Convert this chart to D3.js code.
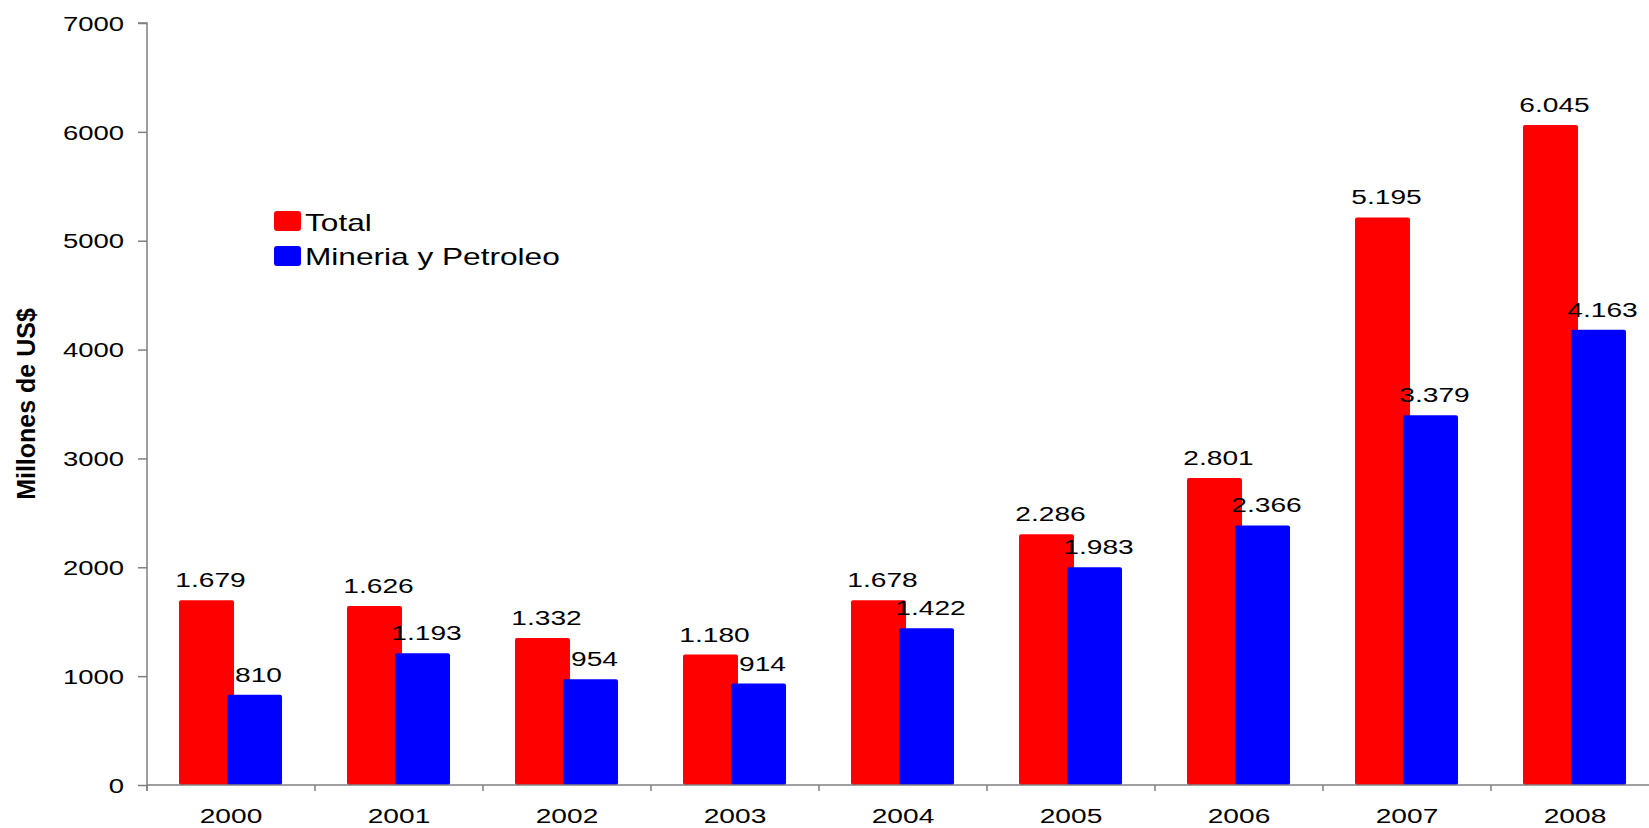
<!DOCTYPE html>
<html><head><meta charset="utf-8">
<script src="https://cdn.jsdelivr.net/npm/d3@7"></script>
<style>
html,body{margin:0;padding:0;background:#fff;}
svg{display:block;font-family:"Liberation Sans",Arial,sans-serif;}
</style></head>
<body><svg id="c" width="1649" height="828"></svg>
<script>
const years = ["2000","2001","2002","2003","2004","2005","2006","2007","2008"];
const totalValues = [1679,1626,1332,1180,1678,2286,2801,5195,6045];
const mineriaValues = [810,1193,954,914,1422,1983,2366,3379,4163];
const yTicks = [0,1000,2000,3000,4000,5000,6000,7000];
const seriesNames = ["Total","Mineria y Petroleo"];
const seriesColors = ["#ff0000","#0000ff"];
const yTitle = "Millones de US$";

const svg = d3.select("#c");
const SX = 1.34; // horizontal text stretch
const x0 = 147, y0 = 785, yTop = 23;
const x = d3.scaleBand().domain(years).range([x0, x0 + 9*168]).paddingInner(0).paddingOuter(0);
const y = d3.scaleLinear().domain([0,7000]).range([y0, yTop]);
const fmt = v => d3.formatLocale({decimal:",",thousands:".",grouping:[3],currency:["$",""]}).format(",d")(v);

const axisColor = "#7f7f7f";

// bars
const barW = 55;
const offsets = [-52, -4];
const series = [totalValues, mineriaValues];
series.forEach((vals, si) => {
  const g = svg.append("g");
  g.selectAll("rect").data(vals).join("rect")
    .attr("x", (d,i) => x(years[i]) + x.bandwidth()/2 + offsets[si])
    .attr("y", d => y(d) - 2)
    .attr("width", barW)
    .attr("height", d => y0 - y(d) + 2)
    .attr("rx", 2)
    .attr("fill", seriesColors[si]);
});
// labels
series.forEach((vals, si) => {
  svg.append("g").selectAll("text").data(vals).join("text")
    .attr("transform", (d,i) => `translate(${x(years[i]) + x.bandwidth()/2 + offsets[si] + barW/2 + 4},${y(d) - 15}) scale(${SX},1)`)
    .attr("text-anchor","middle")
    .attr("font-size", 21)
    .attr("fill","#000")
    .text(d => fmt(d));
});

// y axis
const ya = svg.append("g").attr("transform", `translate(${x0},0)`)
  .call(d3.axisLeft(y).tickValues(yTicks).tickSize(9).tickPadding(14).tickFormat(d3.format("d")));
ya.select(".domain").attr("stroke", axisColor).attr("stroke-width",1.5).attr("d", `M-9,${yTop}H0V${y0+6}`);
ya.selectAll(".tick line").attr("stroke", axisColor).attr("stroke-width",1.5);
ya.selectAll(".tick text").attr("font-size",20.5).attr("fill","#000")
  .attr("font-family",'"Liberation Sans",Arial,sans-serif')
  .attr("dy","0.35em")
  .each(function(){ const t=d3.select(this); const xx=+t.attr("x"); t.attr("x",null).attr("transform",`translate(${xx},0) scale(${SX},1)`); });

// x axis
const xa = svg.append("g");
xa.append("line").attr("x1", x0).attr("x2", 1649).attr("y1", y0).attr("y2", y0)
  .attr("stroke", axisColor).attr("stroke-width",1.5);
xa.selectAll("line.tk").data(years).join("line").attr("class","tk")
  .attr("x1", d => x(d)).attr("x2", d => x(d)).attr("y1", y0).attr("y2", y0+6)
  .attr("stroke", axisColor).attr("stroke-width",1.5);
xa.selectAll("text").data(years).join("text")
  .attr("transform", d => `translate(${x(d)+x.bandwidth()/2},${y0+38}) scale(${SX},1)`)
  .attr("text-anchor","middle").attr("font-size",21).attr("fill","#000").text(d=>d);

// y title
svg.append("text")
  .attr("transform", `translate(35,404) rotate(-90)`)
  .attr("text-anchor","middle").attr("font-size",25).attr("font-weight","bold")
  .attr("fill","#000").text(yTitle);

// legend
const lg = svg.append("g");
seriesNames.forEach((n,i) => {
  lg.append("rect").attr("x",274).attr("y",211 + i*35).attr("width",27).attr("height",20).attr("rx",3)
    .attr("fill", seriesColors[i]);
  lg.append("text").attr("transform",`translate(305,${231 + i*33.5}) scale(${SX},1)`)
    .attr("font-size",23.6).attr("fill","#000").text(n);
});
</script></body></html>
